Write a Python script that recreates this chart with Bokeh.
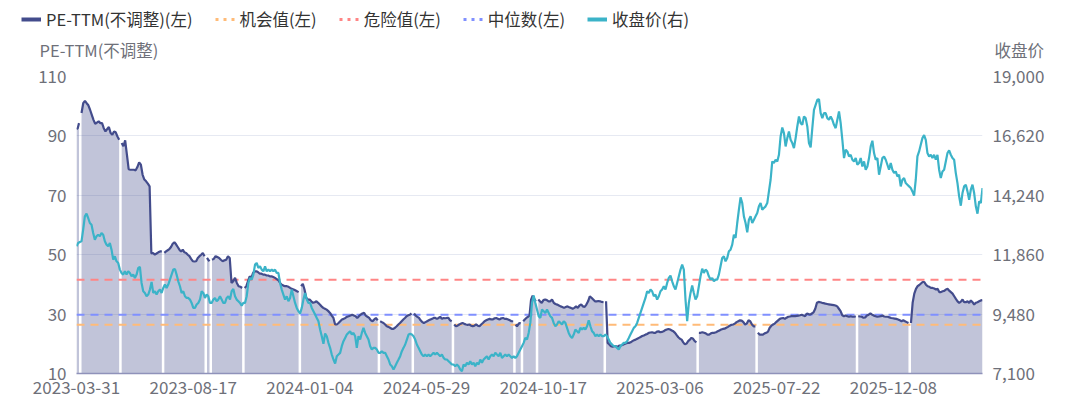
import numpy as np
from bokeh.plotting import figure
from bokeh.layouts import column
from bokeh.models import (Range1d, LinearAxis, FixedTicker, NumeralTickFormatter,
                          Legend, LegendItem, Label)
from bokeh.embed import file_html
from bokeh.resources import INLINE

# ---------------- data ----------------
date_labels = ["2023-03-31", "2023-08-17", "2024-01-04", "2024-05-29",
               "2024-10-17", "2025-03-06", "2025-07-22", "2025-12-08"]
label_days = [0, 93, 186, 279, 372, 465, 558, 651]   # trading-day index of each label
n_days = 723                                          # trading days shown

left_ticks = [10, 30, 50, 70, 90, 110]
right_ticks = [7100, 9480, 11860, 14240, 16620, 19000]

danger = 41.6        # 危险值
median = 29.8        # 中位数
opportunity = 26.4   # 机会值

series_names = ["PE-TTM(不调整)(左)", "机会值(左)", "危险值(左)", "中位数(左)", "收盘价(右)"]
left_axis_name = "PE-TTM(不调整)"
right_axis_name = "收盘价"

# 收盘价, read at evenly spaced trading days across the whole span
close = [
    12196, 12329, 12369, 12396, 12863, 13396, 13503, 13330, 13130, 13063,
    12729, 12463, 12596, 12663, 12596, 12729, 12663, 12396, 12263, 12196,
    12329, 12062, 11662, 11796, 11596, 11529, 11262, 11129, 11062, 11195,
    11062, 11195, 11129, 10995, 11062, 10929, 11062, 11329, 11369, 10728,
    10395, 10328, 10195, 10262, 10462, 10768, 10328, 10395, 10262, 10395,
    10462, 10328, 10528, 10662, 10528, 10662, 10862, 11062, 11262, 11289,
    11062, 10795, 10595, 10328, 10395, 10195, 10128, 10128, 10061, 9928,
    9728, 9728, 9861, 9928, 10061, 10395, 10328, 10128, 10262, 10195,
    9928, 9928, 10061, 10128, 9995, 10061, 10195, 10061, 9928, 9928,
    10128, 10195, 10061, 10395, 10488, 10195, 10061, 9995, 9928, 9821,
    9928, 9928, 10195, 10728, 10929, 10862, 11062, 11462, 11529, 11329,
    11395, 11262, 11195, 11395, 11195, 11262, 11195, 11262, 11195, 11262,
    11129, 11129, 10728, 10462, 10262, 10061, 10195, 9995, 10128, 10462,
    10195, 9928, 9728, 9595, 9501, 9728, 10061, 10328, 10061, 9928,
    9928, 9728, 9595, 9461, 9328, 9194, 8861, 8594, 8287, 8701,
    8594, 8327, 8127, 7860, 7660, 7500, 7794, 7860, 7927, 8194,
    8394, 8527, 8661, 8727, 8794, 8661, 8727, 8594, 8127, 8594,
    8461, 8727, 8928, 8727, 8594, 8461, 8194, 8060, 8127, 8127,
    8060, 7927, 7927, 7994, 7927, 7927, 7794, 7660, 7460, 7393,
    7260, 7393, 7527, 7660, 7794, 7994, 8127, 8261, 8461, 8661,
    8687, 8661, 8594, 8461, 8261, 8127, 7994, 7860, 7794, 7860,
    7794, 7860, 7794, 7860, 7927, 7860, 7927, 7860, 7794, 7860,
    7727, 7660, 7660, 7594, 7527, 7460, 7460, 7393, 7460, 7393,
    7260, 7193, 7460, 7393, 7527, 7460, 7594, 7460, 7527, 7393,
    7527, 7460, 7660, 7527, 7660, 7727, 7794, 7660, 7794, 7860,
    7794, 7927, 7860, 7794, 7927, 7727, 7794, 7860, 7794, 7860,
    7794, 7727, 7794, 7727, 7794, 7927, 8060, 8194, 8327, 8527,
    8461, 8727, 9128, 9928, 10222, 9928, 9661, 9394, 9328, 9661,
    9595, 9528, 9661, 9528, 9394, 9328, 9128, 8994, 9061, 9194,
    9128, 9061, 9194, 9128, 8928, 8727, 8594, 8527, 8661, 8861,
    8794, 8727, 8928, 8861, 8928, 8861, 8994, 9234, 8994, 8794,
    8727, 8594, 8661, 8594, 8661, 8594, 8594, 8661, 8594, 8461,
    8327, 8261, 8194, 8194, 8127, 8060, 8194, 8261, 8327, 8327,
    8394, 8527, 8661, 8794, 8928, 8994, 9128, 9328, 9528, 9728,
    9928, 10128, 10395, 10328, 10462, 10395, 10195, 10262, 10061, 10195,
    10395, 10462, 10595, 10462, 10728, 10929, 11022, 10795, 10595, 10462,
    10728, 10995, 11262, 11462, 11262, 10061, 9200, 9928, 10328, 10622,
    10328, 10061, 10195, 10595, 10995, 11302, 11129, 11262, 11195, 10995,
    10862, 10929, 10795, 10862, 10862, 11062, 11395, 11729, 11796, 11596,
    11729, 11996, 12062, 12263, 12663, 12529, 13130, 13663, 14157, 13930,
    13396, 13130, 12756, 13263, 13396, 13130, 13263, 13396, 13530, 13797,
    13930, 13663, 13730, 13797, 13930, 14397, 14864, 15597, 15531, 15664,
    15597, 15864, 16598, 16958, 16731, 16198, 16531, 16798, 16465, 16331,
    16131, 16531, 16998, 17398, 17132, 17065, 17398, 17332, 16998, 16331,
    16158, 16931, 17665, 17865, 18065, 18092, 17532, 17332, 17532, 17532,
    17332, 17265, 17398, 17265, 17065, 16931, 17265, 17599, 17132, 16465,
    15731, 16064, 15998, 15798, 15864, 15664, 15597, 15731, 15464, 15531,
    15731, 15397, 15597, 15264, 15397, 15731, 16198, 16425, 15931, 15664,
    15731, 15064, 15397, 15731, 15798, 15664, 15464, 15264, 15531, 15264,
    15131, 15197, 14997, 15064, 14597, 14864, 14931, 14730, 14664, 14597,
    14530, 14397, 14224, 14864, 15798, 15998, 16265, 16531, 16651, 16465,
    15931, 15798, 15864, 15731, 15864, 15664, 15864, 15264, 14931, 15197,
    15264, 15597, 15931, 16038, 15864, 15731, 15664, 15131, 14730, 14197,
    13823, 14330, 14597, 14664, 14397, 14063, 14464, 14664, 14330, 13797,
    13503, 13997, 13930, 14530,
]

# PE-TTM(不调整): runs of trading days (first day, last day) between missing days,
# values read at evenly spaced days inside each run
pe_start = [0, 4, 36, 70, 104, 108, 134, 179, 242, 269, 301, 350, 356, 368, 422, 496, 543, 623, 665]
pe_end = [2, 34, 68, 102, 106, 132, 177, 240, 267, 299, 348, 354, 366, 420, 494, 541, 621, 663, 722]
pe_values = [
    [92.3, 92.6, 94.3],
    [97.7, 101.0, 101.8, 101.0, 100.3, 98.8, 97.1, 95.4, 94.1, 94.5, 94.9, 94.3, 94.3,
     92.6, 91.5, 92.3, 93.0, 91.0, 90.4, 91.5, 91.2, 89.8, 88.7],
    [87.6, 86.5, 88.5, 83.7, 78.8, 78.6, 78.6, 78.6, 78.4, 79.5, 81.1, 80.3, 76.9, 75.3,
     74.7, 73.9, 73.0, 50.4, 50.6, 50.0, 50.4, 50.8, 51.1, 51.1],
    [50.6, 51.1, 51.5, 51.9, 52.6, 53.7, 54.2, 53.5, 52.6, 51.7, 51.1, 51.7, 50.8, 50.6,
     50.0, 49.5, 48.6, 47.8, 47.7, 47.8, 48.9, 49.5, 50.0, 50.6, 49.5],
    [48.9, 48.3, 47.8],
    [48.3, 48.6, 49.5, 49.2, 48.9, 48.3, 47.8, 48.1, 48.3, 49.5, 48.9, 40.5, 41.1, 42.2,
     40.5, 39.4, 39.2, 38.8],
    [38.8, 39.4, 41.1, 42.7, 42.2, 43.9, 44.4, 44.4, 44.1, 43.6, 43.6, 43.3, 43.3, 43.0,
     43.0, 42.7, 42.7, 42.5, 42.2, 41.8, 41.4, 40.5, 39.9, 39.6, 39.4, 39.4, 39.2, 38.8,
     38.5, 38.3, 38.0, 37.7, 37.4],
    [39.4, 40.2, 38.3, 35.5, 34.9, 34.9, 34.3, 33.8, 34.0, 34.3, 33.8, 33.2, 32.6, 32.1,
     31.8, 31.5, 31.0, 30.4, 29.5, 28.7, 26.5, 26.5, 27.0, 27.6, 28.2, 28.4, 28.7, 29.1,
     29.3, 29.5, 29.8, 29.5, 29.3, 28.7, 29.3, 29.8, 30.2, 30.4, 29.5, 29.1, 28.7, 27.9,
     27.6, 28.2, 28.7, 27.9],
    [27.6, 27.3, 27.0, 26.5, 25.9, 25.7, 25.4, 25.0, 25.0, 25.4, 25.9, 26.5, 27.0, 27.6,
     28.2, 28.7, 29.3, 29.6, 29.8, 30.2],
    [30.2, 29.5, 29.1, 28.7, 27.9, 27.3, 27.0, 27.3, 27.6, 27.9, 28.2, 28.4, 28.7, 28.7,
     28.4, 28.7, 29.1, 28.4, 28.7, 28.6, 28.7, 28.7, 27.9, 27.6],
    [26.5, 25.9, 26.1, 26.5, 26.8, 27.0, 26.7, 26.5, 26.4, 26.5, 26.1, 25.9, 26.1, 26.5,
     26.1, 25.9, 26.5, 27.0, 27.6, 27.9, 28.2, 28.4, 28.2, 28.2, 28.6, 28.7, 28.4, 28.2,
     28.6, 28.7, 28.4, 28.4, 28.2, 27.9, 27.6, 27.6],
    [26.5, 25.9, 26.5, 27.0, 26.8],
    [27.6, 28.2, 28.7, 29.1, 29.5, 34.9, 36.2, 35.1, 34.3],
    [34.9, 34.3, 33.8, 34.7, 34.9, 34.7, 34.3, 34.3, 34.9, 33.8, 33.4, 33.2, 32.9, 32.6,
     32.4, 32.1, 32.4, 32.6, 32.3, 32.1, 31.8, 32.1, 32.6, 32.1, 32.9, 33.2, 32.6, 32.4,
     33.2, 34.3, 36.0, 35.5, 34.9, 34.3, 34.3, 34.4, 34.3, 34.1, 34.0],
    [34.3, 20.3, 19.8, 19.2, 19.0, 19.2, 19.2, 19.0, 19.4, 19.4, 19.6, 19.9, 20.1, 20.3,
     20.3, 20.5, 20.9, 21.2, 21.4, 21.7, 22.0, 22.3, 22.6, 22.8, 23.1, 23.3, 23.7, 23.8,
     23.9, 23.7, 23.7, 24.1, 24.2, 23.9, 24.0, 24.2, 24.6, 24.8, 25.0, 24.8, 24.5, 24.2,
     23.7, 22.9, 22.2, 21.7, 21.4, 20.5, 19.8, 20.1, 20.9, 21.4, 22.0, 21.7, 20.9, 20.5],
    [23.7, 23.7, 23.9, 23.7, 23.5, 23.1, 23.1, 23.5, 23.7, 23.7, 23.9, 24.2, 24.5, 24.8,
     25.0, 25.1, 25.4, 25.7, 26.1, 26.4, 26.5, 26.8, 27.3, 27.6, 27.9, 27.8, 27.3, 26.5,
     26.8, 27.9, 27.6, 26.5, 25.9, 25.9],
    [23.7, 23.1, 23.1, 23.1, 23.5, 23.7, 24.1, 25.4, 26.1, 26.5, 26.8, 27.4, 27.9, 28.4,
     28.6, 28.7, 28.4, 28.8, 29.1, 29.2, 29.3, 29.3, 29.3, 29.4, 29.5, 29.6, 29.8, 29.5,
     29.3, 30.2, 30.0, 29.8, 30.2, 30.6, 31.8, 33.8, 34.1, 34.0, 33.8, 33.7, 33.5, 33.4,
     33.3, 33.2, 33.1, 33.0, 32.9, 32.6, 31.8, 31.0, 29.6, 29.3, 29.5, 29.3, 29.1, 29.3,
     29.1, 29.1, 29.3],
    [29.3, 29.2, 29.1, 28.8, 28.9, 29.5, 29.8, 30.2, 29.8, 29.5, 29.3, 29.1, 29.2, 29.3,
     29.5, 29.2, 29.1, 29.1, 28.9, 28.7, 28.6, 28.5, 28.4, 28.2, 27.9, 27.6, 27.9, 27.6,
     27.3, 27.0],
    [27.0, 33.8, 36.9, 38.5, 39.4, 39.8, 40.3, 40.8, 40.8, 39.9, 39.4, 39.2, 38.8, 38.8,
     38.6, 38.3, 38.5, 37.4, 37.4, 37.7, 37.8, 38.3, 38.5, 37.9, 37.4, 36.9, 36.0, 35.1,
     34.3, 33.8, 34.2, 34.9, 34.0, 34.0, 34.3, 33.8, 34.6, 34.0, 33.2, 33.8, 34.0, 34.3,
     34.6, 34.7],
]

# ---------------- styling ----------------
FONT = "Noto Sans CJK SC"
PE_COLOR = "#434c8c"
CLOSE_COLOR = "#3bb3c8"
DANGER_COLOR = "#ff8585"
MEDIAN_COLOR = "#8090ff"
OPP_COLOR = "#ffbb78"
TICK_COLOR = "#6e7079"
GRID_COLOR = "#e6e9f2"
W = 1071
HDR_H = 62


def no_align(fig):
    if "frame_align" in fig.properties():
        fig.frame_align = False


# derived series
close_x = np.linspace(0, n_days - 1, len(close))
span_x = [0, n_days - 1]
pe_x_all, pe_y_all = [], []
for s, e, vals in zip(pe_start, pe_end, pe_values):
    pe_x_all += list(np.linspace(s, e, len(vals))) + [np.nan]
    pe_y_all += list(vals) + [np.nan]

# ---------------- header: legend + axis names ----------------
hdr = figure(width=W, height=HDR_H, output_backend="svg", toolbar_location=None,
             x_axis_type=None, y_axis_type=None, min_border=0,
             x_range=Range1d(-1e6, -1e6 + 1), y_range=Range1d(-1e6, -1e6 + 1))
no_align(hdr)
hdr.outline_line_color = None
hdr.background_fill_color = "white"
hdr.border_fill_color = "white"

# legend keys (hidden renderers, only their legend icons are shown)
k_pe = hdr.line(pe_x_all, pe_y_all, line_color=PE_COLOR, line_width=4, visible=False)
k_opp = hdr.line(span_x, [opportunity] * 2, line_color=OPP_COLOR, line_width=3,
                 line_dash="3 5", visible=False)
k_danger = hdr.line(span_x, [danger] * 2, line_color=DANGER_COLOR, line_width=3,
                    line_dash="3 5", visible=False)
k_median = hdr.line(span_x, [median] * 2, line_color=MEDIAN_COLOR, line_width=3,
                    line_dash="3 5", visible=False)
k_close = hdr.line(close_x, close, line_color=CLOSE_COLOR, line_width=4, visible=False)

legend = Legend(items=[LegendItem(label=n, renderers=[r]) for n, r in
                       zip(series_names, [k_pe, k_opp, k_danger, k_median, k_close])],
                orientation="horizontal", location=(21, HDR_H - 31))
legend.background_fill_alpha = 0
legend.border_line_color = None
legend.inactive_fill_alpha = 0
legend.padding = 0
legend.margin = 0
legend.spacing = 22
legend.glyph_width = 20
legend.glyph_height = 16
legend.label_standoff = 5
legend.label_height = 20
legend.label_text_font = FONT
legend.label_text_font_size = "16.5px"
legend.label_text_color = "#333333"
hdr.add_layout(legend)

hdr.add_layout(Label(x=39, y=HDR_H - 49, x_units="screen", y_units="screen",
                     text=left_axis_name, text_font=FONT, text_font_size="16.5px",
                     text_color=TICK_COLOR, text_baseline="middle", text_align="left"))
hdr.add_layout(Label(x=994, y=HDR_H - 49, x_units="screen", y_units="screen",
                     text=right_axis_name, text_font=FONT, text_font_size="16.5px",
                     text_color=TICK_COLOR, text_baseline="middle", text_align="left"))

# ---------------- main chart ----------------
top_border = 76 - HDR_H
p = figure(width=W, height=top_border + 297 + 38, output_backend="svg", toolbar_location=None,
           x_range=Range1d(0, n_days - 1), y_range=Range1d(left_ticks[0], left_ticks[-1]),
           min_border_left=76, min_border_right=89, min_border_top=top_border,
           min_border_bottom=38)
no_align(p)
p.outline_line_color = None
p.background_fill_color = "white"
p.border_fill_color = "white"
p.xgrid.visible = False
p.ygrid.grid_line_color = GRID_COLOR
p.ygrid.grid_line_width = 1

p.extra_y_ranges = {"close": Range1d(right_ticks[0], right_ticks[-1])}

# PE area (one patch per run of days)
for s, e, vals in zip(pe_start, pe_end, pe_values):
    xs = np.linspace(s, e, len(vals))
    p.varea(x=xs, y1=[left_ticks[0]] * len(vals), y2=vals,
            fill_color=PE_COLOR, fill_alpha=0.33)

p.line(span_x, [opportunity] * 2, line_color=OPP_COLOR, line_width=2, line_dash="8 6")
p.line(span_x, [danger] * 2, line_color=DANGER_COLOR, line_width=2, line_dash="8 6")
p.line(span_x, [median] * 2, line_color=MEDIAN_COLOR, line_width=2, line_dash="8 6")

p.line(pe_x_all, pe_y_all, line_color=PE_COLOR, line_width=2.2)
p.line(close_x, close, line_color=CLOSE_COLOR, line_width=2.2, y_range_name="close")

# axes
xa = p.xaxis[0]
xa.ticker = FixedTicker(ticks=label_days)
xa.major_label_overrides = {d: s for d, s in zip(label_days, date_labels)}
xa.axis_line_color = "#8f92ba"
xa.axis_line_width = 1.5
xa.major_label_standoff = 7

ya = p.yaxis[0]
ya.ticker = FixedTicker(ticks=left_ticks)
ya.axis_line_color = None
ya.major_label_standoff = 10

yr = LinearAxis(y_range_name="close", ticker=FixedTicker(ticks=right_ticks),
                formatter=NumeralTickFormatter(format="0,0"))
yr.axis_line_color = None
yr.major_label_standoff = 10
p.add_layout(yr, "right")

for ax in (xa, ya, yr):
    ax.major_tick_line_color = None
    ax.minor_tick_line_color = None
    ax.major_tick_out = 0
    ax.major_tick_in = 0
    ax.minor_tick_out = 0
    ax.minor_tick_in = 0
    ax.major_label_text_font = FONT
    ax.major_label_text_font_size = "17px"
    ax.major_label_text_color = TICK_COLOR

open("out.html", "w").write(file_html(column(hdr, p, spacing=0), INLINE))
